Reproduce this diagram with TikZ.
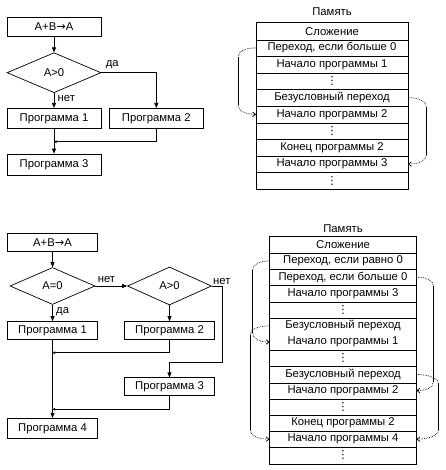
\documentclass[tikz,border=0pt]{standalone}
\usepackage{fontspec}
\setmainfont{Liberation Sans}
\newfontfamily\dotsfont{DejaVu Sans}
\usetikzlibrary{shapes.geometric,arrows.meta}
\newcommand{\memdots}{{\dotsfont ⋮}}
\newcommand{\gives}{{\dotsfont →}}

\begin{document}
\begin{tikzpicture}[x=1pt, y=-1pt, line width=0.7pt, font=\fontsize{11.3}{13}\selectfont,
  box/.style = {draw, minimum width=94pt, minimum height=20pt, inner sep=0pt},
  lowbox/.style = {box, minimum width=90pt, minimum height=18pt},
  cond/.style = {draw, diamond, minimum width=94pt, minimum height=40pt, inner sep=0pt},
  cell/.style = {minimum width=151pt, minimum height=16.6pt, inner sep=0pt},
  arr/.style = {-{Triangle[length=5pt,width=4pt]}},
  meet/.style = {-{Triangle[length=2.5pt,width=2.5pt]}},
  jump/.style = {densely dotted, -{Straight Barb[length=3pt,width=4.5pt]}}]
\useasboundingbox (0,0) rectangle (445,470);

% first flowchart
\node[box, minimum height=19pt] (s1) at (54,26.5) {A+B\gives A};
\node[cond] (d1) at (54,72.7) {A>0};
\node[box] (p1) at (54,118.3) {Программа 1};
\node[box] (p2) at (156.3,118.3) {Программа 2};
\node[box, minimum height=21pt] (p3) at (54,164.5) {Программа 3};
\coordinate (j1) at (54,141.7);
\draw[arr] (s1) -- (d1);
\draw[arr] (d1.east) -| node[pos=.1, above] {да} (p2.north);
\draw[arr] (d1.south) -- node[pos=.4, right] {нет} (p1.north);
\draw[arr] (p1) -- (p3);
\draw[meet] (p2.south) |- (j1);

% first memory
\node (atitle) at (332,12) {Память};
\foreach \t [count=\i] in {Сложение, {Переход, если больше 0}, Начало программы 1, \memdots,
    Безусловный переход, Начало программы 2, \memdots, Конец программы 2,
    Начало программы 3, \memdots}
  \node[cell] (a\i) at (332, {23+8.3+(\i-1)*16.6}) {\t};
\draw (a1.north west) rectangle (a10.south east);
\foreach \i in {1,...,9} \draw (a\i.south west) -- (a\i.south east);

% second flowchart
\node[lowbox] (t1) at (52.5,242.2) {A+B\gives A};
\node[cond, minimum width=85pt, minimum height=37pt] (e1) at (52.5,286) {A=0};
\node[cond, minimum width=84pt, minimum height=38pt] (e2) at (169.5,286) {A>0};
\node[lowbox] (q1) at (52.5,330.5) {Программа 1};
\node[lowbox] (q2) at (169.5,330.5) {Программа 2};
\node[lowbox] (q3) at (169.5,386.8) {Программа 3};
\node[lowbox, minimum height=20pt] (q4) at (52.5,428.3) {Программа 4};
\coordinate (k1) at (222.7,362.7);
\coordinate (j2) at (52.5,352.7);
\coordinate (j3) at (52.5,409.3);
\draw[arr] (t1) -- (e1);
\draw[arr] (e1.east) -- node[pos=.35, above] {нет} (e2.west);
\draw[arr] (e1.south) -- node[pos=.4, right] {да} (q1.north);
\draw[arr] (e2.south) -- (q2.north);
\draw[arr] (e2.east) node[anchor=south west, inner sep=1pt] {нет} -| (k1) -| (q3.north);
\draw[meet] (q2.south) |- (j2);
\draw[meet] (q3.south) |- (j3);
\draw[arr] (q1) -- (q4);

% second memory
\node (btitle) at (343,229) {Память};
\foreach \t [count=\i] in {Сложение, {Переход, если равно 0}, {Переход, если больше 0},
    Начало программы 3, \memdots, Безусловный переход, Начало программы 1, \memdots,
    Безусловный переход, Начало программы 2, \memdots, Конец программы 2,
    Начало программы 4, \memdots}
  \node[cell, minimum width=146pt, minimum height=16.2pt] (b\i) at (343, {236.7+8.1+(\i-1)*16.2}) {\t};
\draw (b1.north west) rectangle (b14.south east);
\foreach \i in {1,2,3,4,5,7,8,9,10,11,12,13} \draw (b\i.south west) -- (b\i.south east);

% jumps
\foreach \from/\to/\s in {a2/a6/18, b2/b7/17, b6/b13/19.5} {
  \draw[densely dotted] (\from.west) .. controls +(-10,0) and +(0,-6) .. ([xshift=-\s, yshift=-9]\from.west) coordinate (u);
  \draw (u) -- ([xshift=-\s, yshift=9]\to.west) coordinate (v);
  \draw[jump] (v) .. controls +(0,6) and +(-10,0) .. (\to.west);
}
\foreach \from/\to/\s in {a5/a9/18.5, b3/b10/17, b9/b13/22} {
  \draw[densely dotted] (\from.east) .. controls +(10,0) and +(0,-6) .. ([xshift=\s, yshift=-9]\from.east) coordinate (u);
  \draw (u) -- ([xshift=\s, yshift=9]\to.east) coordinate (v);
  \draw[jump] (v) .. controls +(0,6) and +(10,0) .. (\to.east);
}
\end{tikzpicture}
\end{document}
